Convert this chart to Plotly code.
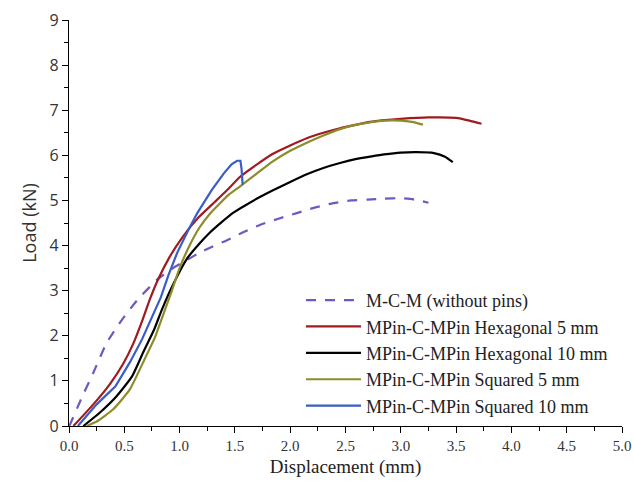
import plotly.graph_objects as go

# M-C-M (without pins)
mcm_x = [0.0, 0.01, 0.11, 0.22, 0.34, 0.48, 0.62, 0.80, 0.94, 1.08, 1.18, 1.30, 1.43, 1.57, 1.73, 1.90, 2.06, 2.22, 2.39, 2.55, 2.70, 2.85, 3.00, 3.12, 3.25]
mcm_y = [0.0, 0.04, 0.60, 1.18, 1.84, 2.36, 2.80, 3.25, 3.50, 3.70, 3.84, 3.98, 4.12, 4.29, 4.46, 4.60, 4.72, 4.84, 4.94, 5.00, 5.02, 5.04, 5.05, 5.02, 4.95]

# MPin-C-MPin Hexagonal 5 mm
hex5_x = [0.04, 0.22, 0.37, 0.49, 0.58, 0.66, 0.73, 0.80, 0.91, 1.03, 1.17, 1.32, 1.43, 1.55, 1.70, 1.84, 2.00, 2.15, 2.30, 2.45, 2.60, 2.72, 2.85, 3.00, 3.25, 3.50, 3.62, 3.73]
hex5_y = [0.0, 0.48, 0.93, 1.38, 1.82, 2.32, 2.80, 3.22, 3.75, 4.20, 4.62, 4.97, 5.23, 5.53, 5.80, 6.03, 6.22, 6.38, 6.50, 6.60, 6.68, 6.74, 6.78, 6.81, 6.84, 6.83, 6.77, 6.70]

# MPin-C-MPin Hexagonal 10 mm
hex10_x = [0.13, 0.28, 0.43, 0.57, 0.67, 0.77, 0.84, 0.95, 1.07, 1.17, 1.27, 1.38, 1.48, 1.60, 1.73, 1.84, 2.00, 2.15, 2.30, 2.45, 2.60, 2.72, 2.85, 3.00, 3.15, 3.30, 3.40, 3.47]
hex10_y = [0.0, 0.30, 0.66, 1.10, 1.63, 2.14, 2.58, 3.18, 3.72, 4.02, 4.28, 4.52, 4.72, 4.90, 5.08, 5.22, 5.41, 5.58, 5.72, 5.83, 5.92, 5.97, 6.02, 6.06, 6.07, 6.05, 5.97, 5.85]

# MPin-C-MPin Squared 5 mm
sq5_x = [0.16, 0.25, 0.40, 0.55, 0.67, 0.78, 0.83, 0.92, 1.00, 1.09, 1.18, 1.28, 1.37, 1.45, 1.55, 1.70, 1.84, 2.00, 2.15, 2.30, 2.45, 2.60, 2.72, 2.85, 3.00, 3.10, 3.20]
sq5_y = [0.0, 0.10, 0.37, 0.81, 1.41, 1.98, 2.32, 2.93, 3.50, 4.00, 4.40, 4.72, 4.95, 5.14, 5.32, 5.60, 5.86, 6.10, 6.28, 6.44, 6.58, 6.68, 6.73, 6.77, 6.77, 6.74, 6.68]

# MPin-C-MPin Squared 10 mm
sq10_x = [0.08, 0.25, 0.42, 0.55, 0.66, 0.75, 0.83, 0.90, 0.98, 1.08, 1.16, 1.29, 1.40, 1.47, 1.52, 1.55, 1.56, 1.57]
sq10_y = [0.0, 0.48, 0.88, 1.41, 1.92, 2.43, 2.85, 3.35, 3.85, 4.35, 4.72, 5.23, 5.60, 5.80, 5.88, 5.88, 5.70, 5.35]

x_ticks = [0.0, 0.5, 1.0, 1.5, 2.0, 2.5, 3.0, 3.5, 4.0, 4.5, 5.0]
y_ticks = [0, 1, 2, 3, 4, 5, 6, 7, 8, 9]

fig = go.Figure()
fig.add_trace(go.Scatter(x=mcm_x, y=mcm_y, mode="lines", name="M-C-M (without pins)",
                         line=dict(color="#7356c0", width=2.2, dash="10px,9px", shape="spline", smoothing=0.5)))
fig.add_trace(go.Scatter(x=hex5_x, y=hex5_y, mode="lines", name="MPin-C-MPin Hexagonal 5 mm",
                         line=dict(color="#9e1b1f", width=2.2, shape="spline", smoothing=0.5)))
fig.add_trace(go.Scatter(x=hex10_x, y=hex10_y, mode="lines", name="MPin-C-MPin Hexagonal 10 mm",
                         line=dict(color="#000000", width=2.2, shape="spline", smoothing=0.5)))
fig.add_trace(go.Scatter(x=sq5_x, y=sq5_y, mode="lines", name="MPin-C-MPin Squared 5 mm",
                         line=dict(color="#8c8c2a", width=2.2, shape="spline", smoothing=0.5)))
fig.add_trace(go.Scatter(x=sq10_x, y=sq10_y, mode="lines", name="MPin-C-MPin Squared 10 mm",
                         line=dict(color="#3a5cc6", width=2.2)))

serif = "Liberation Serif, DejaVu Serif, serif"
sans = "Open Sans, DejaVu Sans, sans-serif"

fig.update_layout(
    width=633, height=485,
    margin=dict(l=69, r=11, t=20, b=59),
    paper_bgcolor="white", plot_bgcolor="white",
    showlegend=True,
    legend=dict(x=0.4195, y=0.355, xanchor="left", yanchor="top",
                bgcolor="rgba(0,0,0,0)", borderwidth=0,
                font=dict(family=serif, size=18, color="#222"),
                tracegroupgap=0, itemwidth=55),
)
fig.update_xaxes(
    range=[0, 5], tickvals=x_ticks, ticktext=[f"{v:.1f}" for v in x_ticks],
    automargin=False,
    showline=True, linecolor="black", linewidth=1.3,
    ticks="outside", ticklen=6, tickwidth=1.3, tickcolor="black",
    minor=dict(dtick=0.25, ticks="outside", ticklen=4, tickcolor="black", tickwidth=1.2),
    showgrid=False, zeroline=False,
    tickfont=dict(family=serif, size=15, color="#333"),
    title=dict(text="Displacement (mm)", font=dict(family=serif, size=19, color="#222"), standoff=6),
)
fig.update_yaxes(
    range=[0, 9], tickvals=y_ticks,
    automargin=False,
    showline=True, linecolor="black", linewidth=1.3,
    ticks="outside", ticklen=6, tickwidth=1.3, tickcolor="black",
    minor=dict(dtick=0.5, ticks="outside", ticklen=4, tickcolor="black", tickwidth=1.2),
    showgrid=False, zeroline=False,
    tickfont=dict(family=sans, size=16, color="#333"),
    title=dict(text="Load (kN)", font=dict(family=sans, size=18, color="#333"), standoff=8),
)

# remove the default page margin so the 633x485 figure fills the window exactly
fig.write_html("out.html", config={"displayModeBar": False},
               post_script="document.body.style.margin='0';")
